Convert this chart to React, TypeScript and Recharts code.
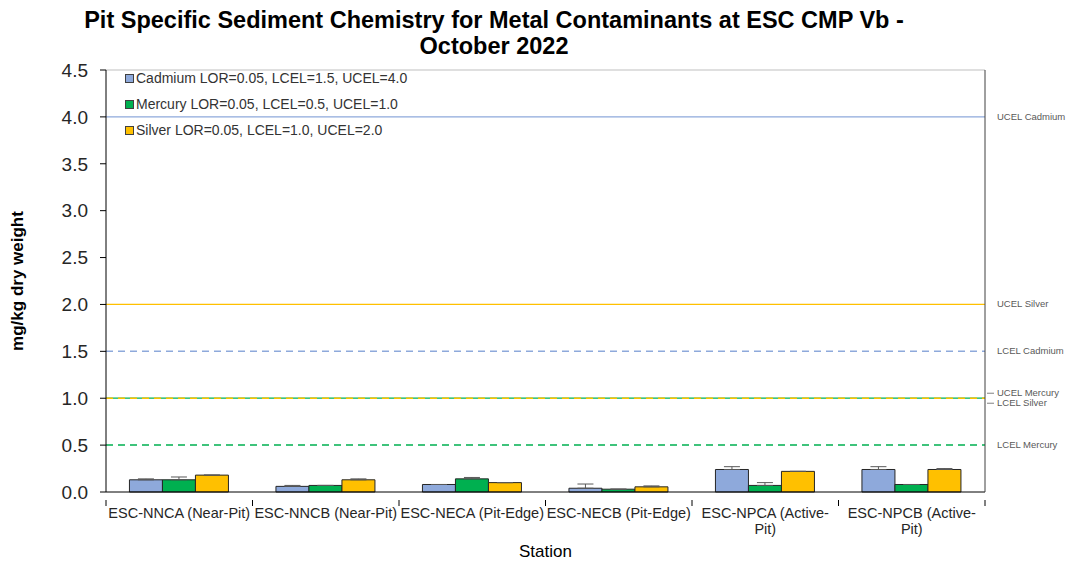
import React from "react";
import {
    ComposedChart,
    Bar,
    ErrorBar,
    XAxis,
    YAxis,
    ReferenceLine,
} from "recharts";

// stations along the x axis
const stations = [
    "ESC-NNCA (Near-Pit)",
    "ESC-NNCB (Near-Pit)",
    "ESC-NECA (Pit-Edge)",
    "ESC-NECB (Pit-Edge)",
    "ESC-NPCA (Active-Pit)",
    "ESC-NPCB (Active-Pit)",
];

// mean concentrations (mg/kg dry weight)
const cadmium = [0.13, 0.06, 0.08, 0.04, 0.24, 0.24];
const mercury = [0.13, 0.07, 0.14, 0.03, 0.07, 0.08];
const silver = [0.18, 0.13, 0.1, 0.055, 0.22, 0.24];

// upper error (standard error)
const cadmiumErr = [0.01, 0.01, 0.0, 0.045, 0.03, 0.03];
const mercuryErr = [0.03, 0.0, 0.015, 0.0, 0.03, 0.0];
const silverErr = [0.0, 0.01, 0.0, 0.01, 0.0, 0.01];

const yTicks = [0, 0.5, 1, 1.5, 2, 2.5, 3, 3.5, 4, 4.5];

const seriesNames = [
    "Cadmium LOR=0.05, LCEL=1.5, UCEL=4.0",
    "Mercury LOR=0.05, LCEL=0.5, UCEL=1.0",
    "Silver LOR=0.05, LCEL=1.0, UCEL=2.0",
];

// guideline values
const guidelineLabels = [
    "UCEL Cadmium",
    "UCEL Silver",
    "LCEL Cadmium",
    "UCEL Mercury",
    "LCEL Silver",
    "LCEL Mercury",
];
const guidelineValues = [4.0, 2.0, 1.5, 1.0, 1.0, 0.5];

const CD = "#8EA9DB";
const HG = "#00B050";
const AG = "#FFC000";
const seriesColors = [CD, HG, AG];

const guideStyle: Record<string, { color: string; dash?: string; dy: number; leader?: boolean }> = {
    "UCEL Cadmium": { color: CD, dy: 0 },
    "UCEL Silver": { color: AG, dy: 0 },
    "LCEL Cadmium": { color: CD, dash: "7 5", dy: 0 },
    "UCEL Mercury": { color: HG, dy: -5, leader: true },
    "LCEL Silver": { color: AG, dash: "7 5", dy: 5, leader: true },
    "LCEL Mercury": { color: HG, dash: "7 5", dy: 0 },
};

const data = stations.map((station, i) => ({
    station,
    cd: cadmium[i],
    hg: mercury[i],
    ag: silver[i],
    cdErr: [0, cadmiumErr[i]],
    hgErr: [0, mercuryErr[i]],
    agErr: [0, silverErr[i]],
}));

const FONT = "Arial, 'Liberation Sans', sans-serif";
const PLOT_W = 879;

const StationTick = (props: any) => {
    const { x, y, payload, index } = props;
    const half = payload.offset || PLOT_W / 12;
    const label: string = payload.value;
    let lines = [label];
    if (label.length > 19) {
        const cut = label.lastIndexOf("-") + 1;
        lines = [label.slice(0, cut), label.slice(cut)];
    }
    return (
        <g>
            <line x1={x - half} x2={x - half} y1={y} y2={y + 6} stroke="#000" />
            {index === stations.length - 1 && (
                <line x1={x + half} x2={x + half} y1={y} y2={y + 6} stroke="#000" />
            )}
            <text
                x={x}
                y={y + 18}
                textAnchor="middle"
                fontFamily={FONT}
                fontSize={14.5}
                fill="#262626"
            >
                {lines.map((l, k) => (
                    <tspan key={k} x={x} dy={k === 0 ? 0 : 16}>
                        {l}
                    </tspan>
                ))}
            </text>
        </g>
    );
};

const renderGuideLabel = (name: string) => (props: any) => {
    const vb = props.viewBox || {};
    const right = (vb.x || 0) + (vb.width || 0);
    const st = guideStyle[name];
    const ty = vb.y + st.dy;
    return (
        <g>
            {st.leader && (
                <line x1={right + 2} x2={right + 9} y1={ty} y2={ty} stroke="#808080" />
            )}
            <text
                x={right + 12}
                y={ty}
                dy={3}
                fontFamily={FONT}
                fontSize={9.5}
                fill="#595959"
            >
                {name}
            </text>
        </g>
    );
};

export default function App() {
    return (
        <div
            style={{
                position: "absolute",
                left: 0,
                top: 0,
                width: 1070,
                height: 563,
                background: "#fff",
            }}
        >
            <div
                style={{
                    position: "absolute",
                    left: 0,
                    top: 7,
                    width: 988,
                    textAlign: "center",
                    fontFamily: FONT,
                    fontWeight: "bold",
                    fontSize: 23.5,
                    lineHeight: "26px",
                    color: "#000",
                }}
            >
                Pit Specific Sediment Chemistry for Metal Contaminants at ESC CMP Vb -
                <br />
                October 2022
            </div>
            <ComposedChart
                width={1070}
                height={563}
                data={data}
                margin={{ top: 70, right: 0, left: 0, bottom: 0 }}
                barCategoryGap="16%"
                barGap={0}
            >
                <XAxis
                    dataKey="station"
                    height={71}
                    axisLine={{ stroke: "#000" }}
                    tickLine={false}
                    tick={<StationTick />}
                    interval={0}
                    label={{
                        value: "Station",
                        position: "insideBottom",
                        offset: 6,
                        fontFamily: FONT,
                        fontSize: 17,
                        fill: "#000",
                    }}
                />
                <YAxis
                    yAxisId="left"
                    width={106}
                    domain={[0, 4.5]}
                    ticks={yTicks}
                    tickFormatter={(v: number) => v.toFixed(1)}
                    tick={{ fontFamily: FONT, fontSize: 19, fill: "#262626" }}
                    tickSize={6}
                    tickMargin={12}
                    axisLine={{ stroke: "#000" }}
                    tickLine={{ stroke: "#000" }}
                    label={{
                        content: () => (
                            <text
                                transform="translate(23,281) rotate(-90)"
                                textAnchor="middle"
                                fontFamily={FONT}
                                fontWeight="bold"
                                fontSize={17}
                                fill="#000"
                            >
                                mg/kg dry weight
                            </text>
                        ),
                    }}
                />
                <YAxis
                    yAxisId="right"
                    orientation="right"
                    width={85}
                    domain={[0, 4.5]}
                    tick={false}
                    tickLine={false}
                    axisLine={{ stroke: "#404040" }}
                />
                <ReferenceLine yAxisId="left" y={4.5} stroke="#bfbfbf" strokeWidth={1} />
                {guidelineLabels.map((name, i) => {
                    const st = guideStyle[name];
                    return (
                        <ReferenceLine
                            key={name}
                            yAxisId="left"
                            y={guidelineValues[i]}
                            stroke={st.color}
                            strokeWidth={st.dash ? 1.5 : 1.2}
                            strokeDasharray={st.dash}
                            label={{ content: renderGuideLabel(name) }}
                        />
                    );
                })}
                <Bar
                    yAxisId="left"
                    dataKey="cd"
                    name={seriesNames[0]}
                    fill={CD}
                    stroke="#262626"
                    strokeWidth={1}
                    isAnimationActive={false}
                >
                    <ErrorBar dataKey="cdErr" width={8} stroke="#595959" strokeWidth={1} />
                </Bar>
                <Bar
                    yAxisId="left"
                    dataKey="hg"
                    name={seriesNames[1]}
                    fill={HG}
                    stroke="#262626"
                    strokeWidth={1}
                    isAnimationActive={false}
                >
                    <ErrorBar dataKey="hgErr" width={8} stroke="#595959" strokeWidth={1} />
                </Bar>
                <Bar
                    yAxisId="left"
                    dataKey="ag"
                    name={seriesNames[2]}
                    fill={AG}
                    stroke="#262626"
                    strokeWidth={1}
                    isAnimationActive={false}
                >
                    <ErrorBar dataKey="agErr" width={8} stroke="#595959" strokeWidth={1} />
                </Bar>
            </ComposedChart>
            <div
                style={{
                    position: "absolute",
                    left: 125,
                    top: 65,
                    fontFamily: FONT,
                    fontSize: 14,
                    color: "#333",
                }}
            >
                {seriesNames.map((n, i) => (
                    <div
                        key={n}
                        style={{ height: 26, display: "flex", alignItems: "center" }}
                    >
                        <span
                            style={{
                                width: 7,
                                height: 7,
                                background: seriesColors[i],
                                border: "1px solid #404040",
                                marginRight: 2,
                                display: "inline-block",
                            }}
                        />
                        {n}
                    </div>
                ))}
            </div>
        </div>
    );
}
